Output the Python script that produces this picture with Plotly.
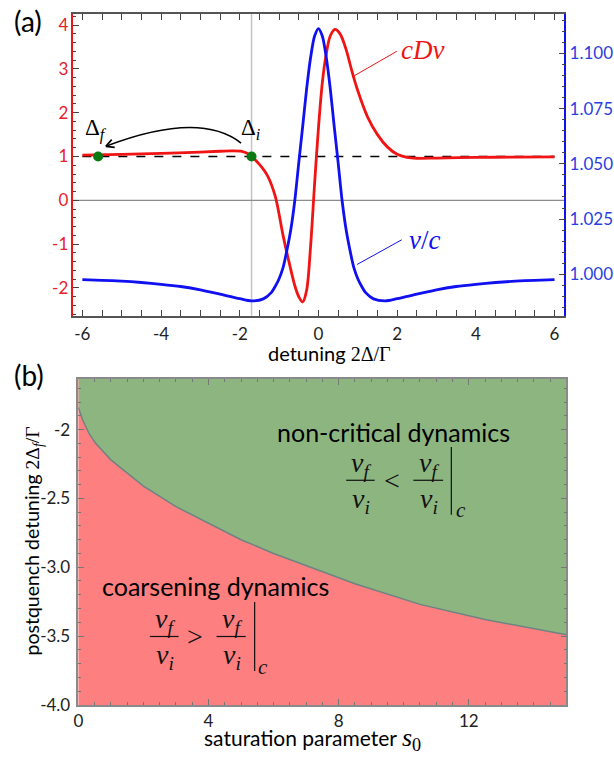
import math
import plotly.graph_objects as go

W, H = 614, 758

# ---------------- panel (a) data ----------------
vc_x = [-6.0, -5.5, -5.0, -4.5, -4.0, -3.5, -3.0, -2.5, -2.0, -1.7,
        -1.4, -1.2, -1.1, -1.0, -0.9, -0.8, -0.7, -0.6, -0.5, -0.4,
        -0.3, -0.2, -0.1, 0.0, 0.1, 0.2, 0.3, 0.4, 0.5, 0.6,
        0.7, 0.8, 0.9, 1.0, 1.1, 1.2, 1.4, 1.7, 2.0, 2.5,
        3.0, 3.5, 4.0, 4.5, 5.0, 5.5, 6.0]
vc_y = [0.9976, 0.9973, 0.9969, 0.9963, 0.9955, 0.9945, 0.9930, 0.9910, 0.9890, 0.9880,
        0.9889, 0.9917, 0.9945, 0.9980, 1.0030, 1.0110, 1.0205, 1.0335, 1.0505, 1.0670,
        1.0840, 1.0980, 1.1077, 1.1112, 1.1077, 1.0980, 1.0840, 1.0670, 1.0505, 1.0335,
        1.0205, 1.0110, 1.0030, 0.9980, 0.9945, 0.9917, 0.9889, 0.9880, 0.9890, 0.9910,
        0.9930, 0.9945, 0.9955, 0.9963, 0.9969, 0.9973, 0.9976]

cdv_x = [-6.0, -5.0, -4.0, -3.0, -2.5, -2.2, -1.95, -1.8, -1.7, -1.5,
         -1.3, -1.1, -0.9, -0.75, -0.6, -0.5, -0.4, -0.3, -0.2, -0.1,
         0.0, 0.1, 0.2, 0.3, 0.42, 0.55, 0.7, 0.85, 1.0, 1.25,
         1.5, 1.75, 2.0, 2.25, 2.5, 3.0, 4.0, 5.0, 6.0]
cdv_y = [1.03, 1.05, 1.07, 1.10, 1.12, 1.13, 1.12, 1.07, 1.00, 0.82,
         0.57, 0.10, -0.80, -1.40, -1.95, -2.20, -2.32, -2.05, -1.05, 0.35,
         1.65, 2.70, 3.35, 3.75, 3.90, 3.80, 3.45, 2.95, 2.50, 1.90,
         1.50, 1.22, 1.05, 0.98, 0.96, 0.965, 0.98, 0.985, 0.99]

quench_x = [-5.6, -1.7]
quench_y = [1.0, 1.0]

xa_ticks = [-6, -4, -2, 0, 2, 4, 6]
xa_text = ["-6", "-4", "-2", "0", "2", "4", "6"]
ya_ticks = [-2, -1, 0, 1, 2, 3, 4]
ya_text = ["-2", "-1", "0", "1", "2", "3", "4"]
yb_ticks = [1.000, 1.025, 1.050, 1.075, 1.100]
yb_text = ["1.000", "1.025", "1.050", "1.075", "1.100"]

# ---------------- panel (b) data ----------------
s0_vals = [0.0, 0.13, 0.33, 0.53, 1.0, 2.0, 3.0, 4.0, 5.0, 6.0, 7.0, 8.5, 10.5, 12.5, 15.0]
crit_det = [-1.84, -1.93, -2.03, -2.10, -2.22, -2.41, -2.56, -2.68, -2.80, -2.90,
            -2.99, -3.12, -3.27, -3.38, -3.49]

xc_ticks = [0, 4, 8, 12]
xc_text = ["0", "4", "8", "12"]
yc_ticks = [-2.0, -2.5, -3.0, -3.5, -4.0]
yc_text = ["-2", "-2.5", "-3.0", "-3.5", "-4.0"]

# ---------------- styling ----------------
RED = "#f01414"
BLUE = "#1010f0"
RED_T = "#e8202a"
BLUE_T = "#2a3fe0"
SANS = "Lato"
SERIF = "Liberation Serif, Times New Roman, DejaVu Serif, serif"
SERIF_CSS = "Liberation Serif"
TICKC = "#444444"


def px(x):
    return x / W


def py(y):
    return 1 - y / H


fig = go.Figure()

fig.add_trace(go.Scatter(x=cdv_x, y=cdv_y, mode="lines", line=dict(color=RED, width=2.8, shape="spline", smoothing=0.9),
                         xaxis="x", yaxis="y", showlegend=False))
fig.add_trace(go.Scatter(x=quench_x, y=quench_y, mode="markers", marker=dict(color="#0b7a12", size=10),
                         xaxis="x", yaxis="y", showlegend=False))
fig.add_trace(go.Scatter(x=vc_x, y=vc_y, mode="lines", line=dict(color=BLUE, width=2.8, shape="spline", smoothing=0.8),
                         xaxis="x", yaxis="y2", showlegend=False))

# panel (b): green above the boundary (fill to y=0, clipped by the axes)
fig.add_trace(go.Scatter(x=s0_vals, y=crit_det, mode="lines", fill="tozeroy", fillcolor="#8db580",
                         line=dict(color="#6f8383", width=1.5), xaxis="x2", yaxis="y3", showlegend=False))

tick_common = dict(ticks="inside", ticklen=6, tickwidth=1.2, tickcolor=TICKC, showgrid=False, zeroline=False,
                   showline=True, linewidth=1.5)

fig.update_layout(
    width=W, height=H, autosize=False,
    margin=dict(l=0, r=0, t=0, b=0),
    paper_bgcolor="white", plot_bgcolor="white",
    xaxis=dict(domain=[69 / W, 564 / W], anchor="y", range=[-6.227, 6.251],
               tickvals=xa_ticks, ticktext=xa_text, linecolor="#555555", mirror="allticks",
               tickfont=dict(family=SANS, size=17, color="#222"), ticklabelstandoff=2,
               minor=dict(dtick=0.5, tick0=0, ticks="inside", ticklen=3, tickcolor=TICKC),
               **tick_common),
    yaxis=dict(domain=[1 - 320 / H, 1 - 14 / H], anchor="x", range=[-2.635, 4.257],
               tickvals=ya_ticks, ticktext=ya_text, linecolor=RED,
               tickfont=dict(family=SANS, size=17, color=RED_T),
               minor=dict(dtick=0.2, tick0=0, ticks="inside", ticklen=3, tickcolor=TICKC),
               **tick_common),
    yaxis2=dict(overlaying="y", side="right", anchor="x", range=[0.98125, 1.11786],
                tickvals=yb_ticks, ticktext=yb_text, linecolor=BLUE,
                tickfont=dict(family=SANS, size=17, color=BLUE_T),
                minor=dict(dtick=0.005, tick0=1.0, ticks="inside", ticklen=3, tickcolor=TICKC),
                **tick_common),
    xaxis2=dict(domain=[74 / W, 566 / W], anchor="y3", range=[0, 15],
                tickvals=xc_ticks, ticktext=xc_text, linecolor="#8a8a8a", mirror="allticks",
                tickfont=dict(family=SANS, size=17, color="#222"), ticklabelstandoff=0,
                minor=dict(dtick=0.5, tick0=0, ticks="inside", ticklen=3, tickcolor="#777"),
                **{**tick_common, "tickcolor": "#777"}),
    yaxis3=dict(domain=[1 - 714.3 / H, 1 - 384 / H], anchor="x2", range=[-4.0, -1.632],
                tickvals=yc_ticks, ticktext=yc_text, linecolor="#8a8a8a", mirror="allticks",
                tickfont=dict(family=SANS, size=17, color="#222"), ticklabelstandoff=3,
                minor=dict(dtick=0.1, tick0=-4, ticks="inside", ticklen=3, tickcolor="#777"),
                **{**tick_common, "tickcolor": "#777"}),
)

shapes = []
# reference lines panel (a)
shapes.append(dict(type="line", xref="x", yref="y domain", x0=quench_x[1], x1=quench_x[1], y0=0, y1=1,
                   line=dict(color="#c4c4c4", width=1.5), layer="below"))
shapes.append(dict(type="line", xref="x domain", yref="y", x0=0, x1=1, y0=0, y1=0,
                   line=dict(color="#8c8c8c", width=1.3), layer="below"))
shapes.append(dict(type="line", xref="x", yref="y", x0=-6, x1=6, y0=1, y1=1,
                   line=dict(color="black", width=1.5, dash="dash"), layer="below"))
# red background of panel (b)
shapes.append(dict(type="rect", xref="x2 domain", yref="y3 domain", x0=0, x1=1, y0=0, y1=1,
                   fillcolor="#fd7f7f", line=dict(width=0), layer="below"))

# leader lines
shapes.append(dict(type="line", xref="paper", yref="paper", x0=px(350), y0=py(78), x1=px(395), y1=py(52),
                   line=dict(color=RED, width=1)))
shapes.append(dict(type="line", xref="paper", yref="paper", x0=px(355), y0=py(268), x1=px(400), y1=py(243),
                   line=dict(color=BLUE, width=1)))

# curved arrow Delta_i -> Delta_f
P0 = (238.0, 145.0)
P2 = (101.7, 148.3)
B = (183.0, 129.3)
P1 = ((4 * B[0] - P0[0] - P2[0]) / 2, (4 * B[1] - P0[1] - P2[1]) / 2)
shapes.append(dict(type="path", xref="paper", yref="paper",
                   path=f"M {px(P0[0])},{py(P0[1])} Q {px(P1[0])},{py(P1[1])} {px(P2[0])},{py(P2[1])}",
                   line=dict(color="black", width=1.6)))
dx, dy = P1[0] - P2[0], P1[1] - P2[1]
L = math.hypot(dx, dy)
ux, uy = dx / L, dy / L
for ang in (math.radians(28), -math.radians(28)):
    vx = ux * math.cos(ang) - uy * math.sin(ang)
    vy = ux * math.sin(ang) + uy * math.cos(ang)
    shapes.append(dict(type="line", xref="paper", yref="paper",
                       x0=px(P2[0]), y0=py(P2[1]), x1=px(P2[0] + 9 * vx), y1=py(P2[1] + 9 * vy),
                       line=dict(color="black", width=1.6)))

annotations = []


def ann(text, x, y, size, color="black", family=SANS, xanchor="center", yanchor="middle", angle=0):
    annotations.append(dict(text=text, x=px(x), y=py(y), xref="paper", yref="paper", showarrow=False,
                            xanchor=xanchor, yanchor=yanchor, textangle=angle,
                            font=dict(family=family, size=size, color=color)))


ann("(a)", 23, 21, 28)
ann("(b)", 24, 380, 28)
ann("<i>cDv</i>", 397, 51, 27, RED, SERIF, xanchor="left")
ann("<i>v</i>/<i>c</i>", 405, 243, 27, BLUE, SERIF, xanchor="left")
ann("Δ<sub><i>f</i></sub>", 79, 131, 23, "black", SERIF, xanchor="left")
ann("Δ<sub><i>i</i></sub>", 236, 131, 23, "black", SERIF, xanchor="left")

ann(f"detuning <span style='font-family:{SERIF_CSS}'>2Δ/Γ</span>", 327, 358, 20)
ann(f"saturation parameter <span style='font-family:{SERIF_CSS};font-size:26px'><i>s</i><sub>0</sub></span>",
    310, 749, 21)
ann(f"postquench detuning <span style='font-family:{SERIF_CSS}'>2Δ<sub><i>f</i></sub>/Γ</span>",
    28, 548, 19.5, angle=-90)

ann("non-critical dynamics", 392, 438, 25)
ann("coarsening dynamics", 212, 594, 25)


# fractions
def fraction_block(x_bar1, x_bar2, y_bar, x_rel, rel, x_vbar, vbar_top, vbar_bot, x_c, y_c):
    for (a, b) in (x_bar1, x_bar2):
        cx = (a + b) / 2
        shapes.append(dict(type="line", xref="paper", yref="paper", x0=px(a), x1=px(b), y0=py(y_bar), y1=py(y_bar),
                           line=dict(color="#111", width=1.2)))
        ann("<i>v</i><sub><i>f</i></sub>", cx + 1, y_bar - 16, 28, "#111", SERIF)
        ann("<i>v</i><sub><i>i</i></sub>", cx + 1, y_bar + 20, 28, "#111", SERIF)
    ann(rel, x_rel, y_bar, 28, "#111", SERIF)
    shapes.append(dict(type="line", xref="paper", yref="paper", x0=px(x_vbar), x1=px(x_vbar),
                       y0=py(vbar_top), y1=py(vbar_bot), line=dict(color="#111", width=1.2)))
    ann("<i>c</i>", x_c, y_c, 21, "#111", SERIF)


fraction_block((344, 372.7), (411.7, 441.7), 486.7, 390, "&lt;", 450, 453, 521.7, 460, 517)
fraction_block((146, 175), (213.3, 242.7), 645, 192, "&gt;", 251.7, 610, 680, 260.5, 676)

fig.update_layout(shapes=shapes, annotations=annotations)

fig.write_html("out.html")
